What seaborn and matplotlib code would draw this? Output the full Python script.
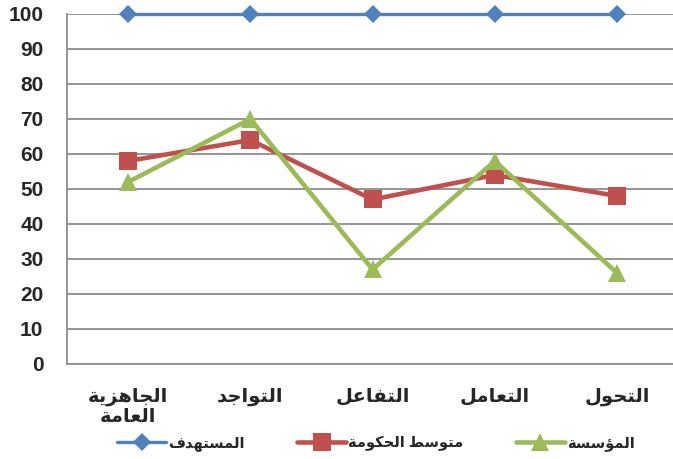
import matplotlib
matplotlib.use('Agg')
import matplotlib.pyplot as plt  # plotting
import seaborn as sb             # line plots
import numpy as np

# chart data
categories = ['الجاهزية\nالعامة', 'التواجد', 'التفاعل', 'التعامل', 'التحول']
target = [100, 100, 100, 100, 100]
gov_avg = [58, 64, 47, 54, 48]
entity = [52, 70, 27, 58, 26]
series_names = ['المستهدف', 'متوسط الحكومة', 'المؤسسة']
y_ticks = [0, 10, 20, 30, 40, 50, 60, 70, 80, 90, 100]

# matplotlib has no arabic shaping, so pick the presentation forms by hand
# (isolated, final, initial, medial) ; 2-tuples only join on the right
FORMS = {
    'ا': ('\uFE8D', '\uFE8E'), 'ؤ': ('\uFE85', '\uFE86'), 'ة': ('\uFE93', '\uFE94'),
    'د': ('\uFEA9', '\uFEAA'), 'ز': ('\uFEAF', '\uFEB0'), 'و': ('\uFEED', '\uFEEE'),
    'ت': ('\uFE95', '\uFE96', '\uFE97', '\uFE98'), 'ج': ('\uFE9D', '\uFE9E', '\uFE9F', '\uFEA0'),
    'ح': ('\uFEA1', '\uFEA2', '\uFEA3', '\uFEA4'), 'س': ('\uFEB1', '\uFEB2', '\uFEB3', '\uFEB4'),
    'ط': ('\uFEC1', '\uFEC2', '\uFEC3', '\uFEC4'), 'ع': ('\uFEC9', '\uFECA', '\uFECB', '\uFECC'),
    'ف': ('\uFED1', '\uFED2', '\uFED3', '\uFED4'), 'ك': ('\uFED9', '\uFEDA', '\uFEDB', '\uFEDC'),
    'ل': ('\uFEDD', '\uFEDE', '\uFEDF', '\uFEE0'), 'م': ('\uFEE1', '\uFEE2', '\uFEE3', '\uFEE4'),
    'ه': ('\uFEE9', '\uFEEA', '\uFEEB', '\uFEEC'), 'ي': ('\uFEF1', '\uFEF2', '\uFEF3', '\uFEF4'),
}

def shape_line(word):
    out = []
    for i, ch in enumerate(word):
        f = FORMS.get(ch)
        if f is None:
            out.append(ch)
            continue
        prev = word[i - 1] if i > 0 else ''
        nxt = word[i + 1] if i + 1 < len(word) else ''
        jp = prev in FORMS and len(FORMS[prev]) == 4
        jn = len(f) == 4 and nxt in FORMS
        if jp and jn:
            out.append(f[3])
        elif jp:
            out.append(f[1])
        elif jn:
            out.append(f[2])
        else:
            out.append(f[0])
    return ''.join(out)[::-1]

def ar(text):
    return '\n'.join(shape_line(line) for line in text.split('\n'))

sb.set_style('white')
plt.rcParams['font.family'] = ['Liberation Sans', 'DejaVu Sans']
plt.rcParams['font.weight'] = 'bold'

fig = plt.figure(figsize=(6.73, 4.59), dpi=100)
ax = fig.add_axes([0.0996, 0.207, 0.908, 0.7625])

x = np.arange(len(categories))
grid_col = '#8c8c8c'

# red first, green over it, blue on top
sb.lineplot(x=x, y=gov_avg, ax=ax, color='#C0504D', linewidth=3.3, marker='s',
            markersize=13, markeredgewidth=0, label=ar(series_names[1]), zorder=3)
sb.lineplot(x=x, y=entity, ax=ax, color='#9BBB59', linewidth=3.3, marker='^',
            markersize=13.5, markeredgewidth=0, label=ar(series_names[2]), zorder=4)
sb.lineplot(x=x, y=target, ax=ax, color='#4F81BD', linewidth=2.4, marker='D',
            markersize=9, markeredgewidth=0, label=ar(series_names[0]), zorder=5)
for line in ax.lines:
    line.set_clip_on(False)

ax.set_xlim(-0.5, len(categories) - 0.5)
ax.set_ylim(0, 100)
ax.set_yticks(y_ticks)
ax.set_yticklabels([str(v) for v in y_ticks], fontsize=15, fontweight='bold')
ax.yaxis.grid(True, color=grid_col, linewidth=1.3)
ax.set_axisbelow(True)

# labels at the centres, tick marks at the category boundaries
ax.set_xticks(x)
ax.set_xticklabels([ar(c) for c in categories], fontsize=14, fontweight='bold',
                   linespacing=1.2)
ax.set_xticks(np.arange(-0.5, len(categories)), minor=True)
ax.tick_params(axis='x', which='major', length=0, pad=17)
ax.tick_params(axis='x', which='minor', length=6, width=1.3, color=grid_col, direction='out')
ax.tick_params(axis='y', length=6, width=1.3, color=grid_col, direction='out', pad=11)

for s in ['top', 'right']:
    ax.spines[s].set_visible(False)
for s in ['left', 'bottom']:
    ax.spines[s].set_color(grid_col)
    ax.spines[s].set_linewidth(1.3)

ax.set_xlabel('')
ax.set_ylabel('')

h, l = ax.get_legend_handles_labels()
order = [2, 0, 1]
ax.legend_.remove()
fig.legend([h[i] for i in order], [l[i] for i in order], loc='center',
           bbox_to_anchor=(0.558, 0.035), ncol=3, frameon=False,
           handlelength=3.4, handletextpad=0.1, columnspacing=3.6,
           prop={'size': 10.5, 'weight': 'bold'})

plt.savefig('out.png', dpi=100)
